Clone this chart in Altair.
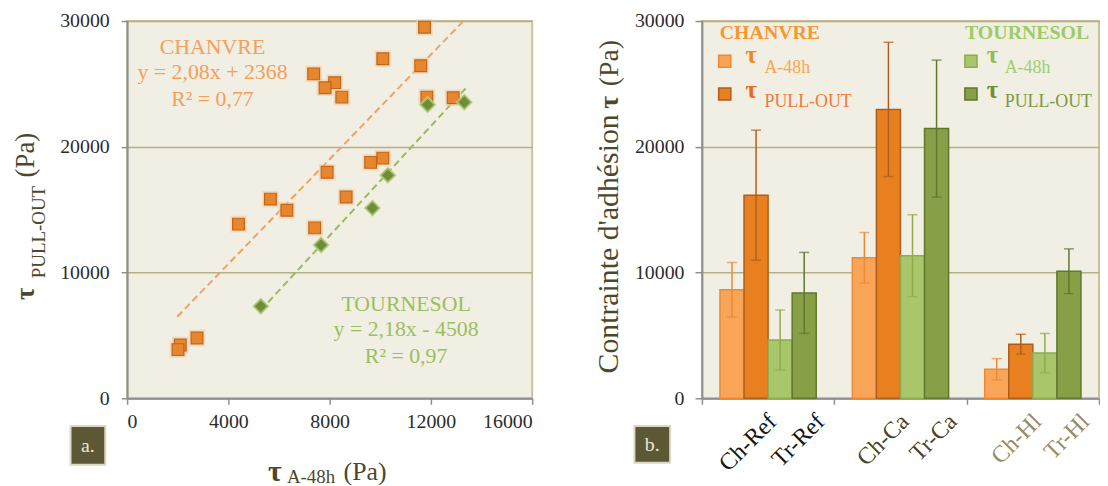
import altair as alt
import pandas as pd

SERIF = "Liberation Serif"

# ---------------- panel a : scatter data ----------------
chanvre_x = [11750, 10100, 11600, 7370, 8200, 7820, 8480, 11840, 12880, 10100,
             9620, 7900, 8650, 5660, 6310, 4400, 7410, 2760, 2100, 2010]
chanvre_y = [29500, 27000, 26450, 25800, 25100, 24700, 23950, 23950, 23900, 19100,
             18760, 17970, 16000, 15840, 14950, 13850, 13550, 4790, 4240, 3870]
tournesol_x = [11870, 13320, 10300, 9690, 7660, 5280]
tournesol_y = [23340, 23550, 17740, 15130, 12190, 7320]

# trend lines as printed on the chart (slope, intercept) and their x extent
chanvre_fit = (2.08, 2368)
chanvre_fit_x = [1980, 13280]
tournesol_fit = (2.18, -4508)
tournesol_fit_x = [5280, 13420]

x_ticks_a = [0, 4000, 8000, 12000, 16000]
y_ticks = [0, 10000, 20000, 30000]

# ---------------- panel b : bar data ----------------
groups = ["Ref", "Ca", "Hl"]
series = ["Ch A-48h", "Ch PULL-OUT", "Tr A-48h", "Tr PULL-OUT"]
ch_a48 = [8630, 11170, 2300]
ch_a48_err = [2170, 2010, 850]
ch_pull = [16150, 22970, 4300]
ch_pull_err = [5170, 5340, 790]
tr_a48 = [4630, 11340, 3600]
tr_a48_err = [2390, 3260, 1555]
tr_pull = [8380, 21445, 10100]
tr_pull_err = [3220, 5450, 1780]
bar_labels = ["Ch-Ref", "Tr-Ref", "Ch-Ca", "Tr-Ca", "Ch-Hl", "Tr-Hl"]

# ---------------- styles ----------------
fill_colors = ["#f9a457", "#e8801f", "#aac66a", "#87a048"]
edge_colors = ["#ea8a36", "#ad5e1e", "#8eab4f", "#5f782c"]
label_colors = {"Ref": "#141414", "Ca": "#4a4526", "Hl": "#978d5b"}
TITLE_COL = "#4d482b"
GRID_COL = "#b4af84"
AXIS_COL = "#8e8e8e"
TICK_TXT = "#2b2b2b"
ORANGE_TXT = "#f4a05a"
GREEN_TXT = "#9cbf5e"

W1, W2, H = 408, 400, 380
GAP = 171
PAD_L, PAD_T = 120, 10
SVG_W, SVG_H = 1100, 476


def txt(s, x, y, size, color, bold=False, align="left", angle=0, baseline="alphabetic", **extra):
    kw = dict(font=SERIF, fontSize=size, color=color, align=align, baseline=baseline)
    if bold:
        kw["fontWeight"] = "bold"
    if angle:
        kw["angle"] = angle
    kw.update(extra)
    return alt.Chart(alt.Data(values=[{"t": s}])).mark_text(**kw).encode(
        x=alt.value(x), y=alt.value(y), text="t:N")


def box(x1, x2, y1, y2, label):
    r = alt.Chart(alt.Data(values=[{"t": label}])).mark_rect(
        fill="#5c5836", stroke="#ddd8c2", strokeWidth=2).encode(
        x=alt.value(x1), x2=alt.value(x2), y=alt.value(y1), y2=alt.value(y2))
    t = txt(label, (x1 + x2) / 2, (y1 + y2) / 2 + 1, 20, "#ece6d0", align="center", baseline="middle")
    return r + t


# ================= panel a =================
xs = alt.Scale(domain=[0, 16000], nice=False, zero=False)
ys = alt.Scale(domain=[0, 30000], nice=False)
x_axis_a = alt.Axis(values=x_ticks_a, format="d", title=None, grid=False,
                    domainColor=AXIS_COL, domainWidth=2, tickColor=AXIS_COL, tickWidth=1.5,
                    tickSize=6, labelFont=SERIF, labelFontSize=20, labelColor=TICK_TXT,
                    labelPadding=7)
y_axis = alt.Axis(values=y_ticks, format="d", title=None, grid=True, gridColor=GRID_COL,
                  gridWidth=1.5, domainColor=AXIS_COL, domainWidth=2, tickColor=AXIS_COL,
                  tickWidth=1.5, tickSize=6, labelFont=SERIF, labelFontSize=20,
                  labelColor=TICK_TXT, labelPadding=12)

XA = alt.X("x:Q", scale=xs, axis=x_axis_a)
YA = alt.Y("y:Q", scale=ys, axis=y_axis)

df_ch = pd.DataFrame({"x": chanvre_x, "y": chanvre_y})
df_tr = pd.DataFrame({"x": tournesol_x, "y": tournesol_y})
df_fit_ch = pd.DataFrame({"x": chanvre_fit_x,
                          "y": [chanvre_fit[0] * v + chanvre_fit[1] for v in chanvre_fit_x]})
df_fit_tr = pd.DataFrame({"x": tournesol_fit_x,
                          "y": [tournesol_fit[0] * v + tournesol_fit[1] for v in tournesol_fit_x]})

fit_ch = alt.Chart(df_fit_ch).mark_line(strokeDash=[7, 4], strokeWidth=2, color="#f4a060").encode(x=XA, y=YA)
fit_tr = alt.Chart(df_fit_tr).mark_line(strokeDash=[7, 4], strokeWidth=2, color="#9bbb59").encode(x=XA, y=YA)

halo_ch = alt.Chart(df_ch).mark_square(size=280, color="#f2cfa6", opacity=0.6).encode(x=XA, y=YA)
pts_ch = alt.Chart(df_ch).mark_square(size=140, filled=True, fill="#e8862e", stroke="#c0651c",
                                      strokeWidth=1.2, opacity=1).encode(x=XA, y=YA)
halo_tr = alt.Chart(df_tr).mark_point(shape="diamond", size=330, filled=True, color="#c9dba6",
                                      opacity=0.7).encode(x=XA, y=YA)
pts_tr = alt.Chart(df_tr).mark_point(shape="diamond", size=190, filled=True, fill="#6e8d36",
                                     stroke="#a2bf68", strokeWidth=1.5, opacity=1).encode(x=XA, y=YA)

ann_a = [
    txt("CHANVRE", 86, 32.7, 22, ORANGE_TXT, align="center"),
    txt("y = 2,08x + 2368", 86, 58.7, 22, ORANGE_TXT, align="center"),
    txt("R² = 0,77", 86, 85.3, 22, ORANGE_TXT, align="center"),
    txt("TOURNESOL", 281, 292, 22, GREEN_TXT, align="center"),
    txt("y = 2,18x - 4508", 281, 317, 22, GREEN_TXT, align="center"),
    txt("R² = 0,97", 281, 344.7, 22, GREEN_TXT, align="center"),
    # y title  tau_PULL-OUT (Pa)
    txt("τ", -94, 281, 27, TITLE_COL, bold=True, angle=270),
    txt("PULL-OUT", -83, 259, 19, TITLE_COL, angle=270),
    txt("(Pa)", -94, 135, 27, TITLE_COL, align="center", angle=270),
    # x title  tau_A-48h (Pa)
    txt("τ", 142, 463, 30, TITLE_COL, bold=True),
    txt("A-48h", 161, 465, 19, TITLE_COL),
    txt("(Pa)", 218, 462, 26, TITLE_COL),
]

left = alt.layer(fit_ch, fit_tr, halo_ch, pts_ch, halo_tr, pts_tr, *ann_a,
                 box(-57, -22, 408, 447, "a.")).properties(width=W1, height=H)

# ================= panel b =================
rows = []
for s, vals, errs in zip(series, [ch_a48, ch_pull, tr_a48, tr_pull],
                         [ch_a48_err, ch_pull_err, tr_a48_err, tr_pull_err]):
    for g, v, e in zip(groups, vals, errs):
        rows.append({"group": g, "series": s, "value": v, "lo": v - e, "hi": v + e})
df_b = pd.DataFrame(rows)

lab_rows = []
for i, lab in enumerate(bar_labels):
    g = groups[i // 2]
    lab_rows.append({"group": g, "series": series[1] if i % 2 == 0 else series[3],
                     "label": lab, "col": label_colors[g]})
df_lab = pd.DataFrame(lab_rows)

x_axis_b = alt.Axis(labels=False, title=None, tickBand="extent", grid=False,
                    domainColor=AXIS_COL, domainWidth=2, tickColor=AXIS_COL, tickWidth=1.5,
                    tickSize=6)
y_axis_b = alt.Axis(values=y_ticks, format="d", title=None, grid=True, gridColor=GRID_COL,
                    gridWidth=1.5, domainColor=AXIS_COL, domainWidth=2, tickColor=AXIS_COL,
                    tickWidth=1.5, tickSize=7, labelFont=SERIF, labelFontSize=20,
                    labelColor=TICK_TXT, labelPadding=11)
ysb = alt.Scale(domain=[0, 30000], nice=False)

XB = alt.X("group:N", sort=groups, scale=alt.Scale(domain=groups, paddingInner=0, paddingOuter=0),
           axis=x_axis_b)
XO = alt.XOffset("series:N", sort=series,
                 scale=alt.Scale(domain=series, paddingInner=0, paddingOuter=0.75))

bars = alt.Chart(df_b).mark_bar(strokeWidth=1.5).encode(
    x=XB, xOffset=XO, y=alt.Y("value:Q", scale=ysb, axis=y_axis_b),
    fill=alt.Fill("series:N", scale=alt.Scale(domain=series, range=fill_colors), legend=None),
    stroke=alt.Stroke("series:N", scale=alt.Scale(domain=series, range=edge_colors), legend=None))

err_col = alt.Color("series:N", scale=alt.Scale(domain=series, range=edge_colors), legend=None)
err = alt.Chart(df_b).mark_rule(strokeWidth=1.5).encode(
    x=XB, xOffset=XO, y=alt.Y("lo:Q", scale=ysb, axis=y_axis_b), y2="hi:Q", color=err_col)
cap_lo = alt.Chart(df_b).mark_tick(size=10, thickness=1.5).encode(
    x=XB, xOffset=XO, y=alt.Y("lo:Q", scale=ysb, axis=y_axis_b), color=err_col)
cap_hi = alt.Chart(df_b).mark_tick(size=10, thickness=1.5).encode(
    x=XB, xOffset=XO, y=alt.Y("hi:Q", scale=ysb, axis=y_axis_b), color=err_col)

xlabels = alt.Chart(df_lab).mark_text(font=SERIF, fontSize=24, angle=315, align="right",
                                      baseline="middle", dx=12, dy=12).encode(
    x=XB, xOffset=XO, y=alt.value(400), text="label:N", color=alt.Color("col:N", scale=None))

legend_sq = []
for (cx, cy, f, s) in [(23, 40.5, fill_colors[0], edge_colors[0]), (23, 73.5, fill_colors[1], edge_colors[1]),
                       (271, 40.5, fill_colors[2], edge_colors[2]), (271, 73.5, fill_colors[3], edge_colors[3])]:
    legend_sq.append(alt.Chart(alt.Data(values=[{"t": 0}])).mark_square(
        size=150, filled=True, fill=f, stroke=s, strokeWidth=1.5, opacity=1).encode(
        x=alt.value(cx), y=alt.value(cy)))

ann_b = [
    txt("CHANVRE", 18, 18, 20, "#f7982e", bold=True),
    txt("τ", 44, 42, 25, "#f08a1c", bold=True),
    txt("A-48h", 63, 52, 18, "#f7a84a"),
    txt("τ", 44, 78, 25, "#e86c1a", bold=True),
    txt("PULL-OUT", 63, 87, 18, "#ee7a3a"),
    txt("TOURNESOL", 265, 18, 20, "#9ccc64", bold=True),
    txt("τ", 287, 42, 25, "#8dbf50", bold=True),
    txt("A-48h", 305, 52, 18, "#9fcf6e"),
    txt("τ", 287, 78, 25, "#6f8f30", bold=True),
    txt("PULL-OUT", 305, 87, 18, "#7a9a40"),
    # y title
    txt("Contrainte d'adhésion", -85, 355, 30, TITLE_COL, angle=270),
    txt("τ", -85, 82, 28, TITLE_COL, bold=True, align="center", angle=270),
    txt("(Pa)", -85, 19, 28, TITLE_COL, align="right", angle=270),
]

right = alt.layer(bars, err, cap_lo, cap_hi, xlabels, *legend_sq, *ann_b,
                  box(-68, -32, 408, 445, "b.")).properties(width=W2, height=H)

chart = alt.hconcat(left, right, spacing=GAP, bounds="flush").properties(
    autosize=alt.AutoSizeParams(type="none"),
    padding={"left": PAD_L, "top": PAD_T, "right": SVG_W - PAD_L, "bottom": SVG_H - PAD_T},
).configure(background="white").configure_view(
    fill="#f1eee4", stroke="#cbc29c", strokeWidth=2)

chart.save("out.html", embed_options={"renderer": "svg", "actions": False})
